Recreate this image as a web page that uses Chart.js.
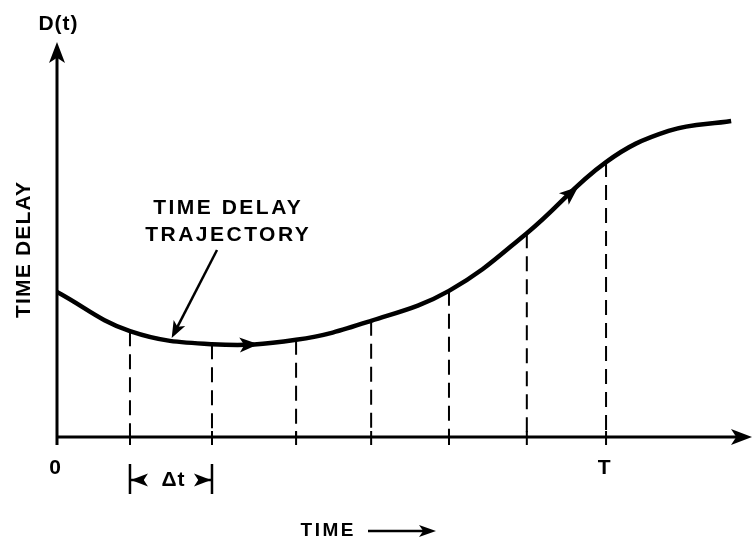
<!DOCTYPE html>
<html><head><meta charset="utf-8">
<script src="https://cdn.jsdelivr.net/npm/chart.js@4"></script>
<style>html,body{margin:0;padding:0;background:#fff}</style>
</head><body>
<canvas id="c" width="756" height="543"></canvas>
<script>
// ---- data (x: 0..100 time units, y: 0..100 delay units)
const curveX = [0, 10.5, 22.3, 34.4, 45.2, 56.4, 67.6, 79, 88, 97];
const curveY = [36.7, 26.8, 23.5, 24.6, 29.4, 37.0, 51.6, 69.6, 77.5, 80.0];
const sampleX = [10.5, 22.3, 34.4, 45.2, 56.4, 67.6, 79];
const sampleY = [26.8, 23.5, 24.6, 29.4, 37.0, 51.6, 69.6];
const xTickValues = [0, 79];
const xTickText = ['0', 'T'];
const yAxisTitle = 'D(t)';
const yAxisLabel = 'TIME DELAY';
const xAxisLabel = 'TIME';
const curveLabel = ['TIME DELAY', 'TRAJECTORY'];
const deltaLabel = '\u0394t';

const FONT = '"Liberation Sans", Arial, Helvetica, sans-serif';

const datasets = [{
  data: curveX.map((x, i) => ({x, y: curveY[i]})),
  borderColor: '#000', borderWidth: 4.5, pointRadius: 0,
  tension: 0.4, fill: false
}];
sampleX.forEach((x, i) => {
  datasets.push({
    data: [{x, y: sampleY[i]}, {x, y: 0}],
    borderColor: '#000', borderWidth: 2, borderDash: [15, 8], pointRadius: 0, fill: false
  });
});

function arrowHead(ctx, tx, ty, ang, len, hw) {
  ctx.save();
  ctx.translate(tx, ty); ctx.rotate(ang);
  ctx.beginPath();
  ctx.moveTo(0, 0); ctx.lineTo(-len, -hw); ctx.lineTo(-len * 0.75, 0); ctx.lineTo(-len, hw);
  ctx.closePath(); ctx.fillStyle = '#000'; ctx.fill();
  ctx.restore();
}
function spacedText(ctx, txt, x, y, font, spacing) {
  ctx.font = font;
  ctx.letterSpacing = spacing + 'px';
  const w = ctx.measureText(txt).width - spacing;
  ctx.textAlign = 'left';
  ctx.fillText(txt, x - w / 2, y);
  ctx.letterSpacing = '0px';
}

const deco = {
  id: 'deco',
  afterDatasetsDraw(chart) {
    const ctx = chart.ctx, xs = chart.scales.x, ys = chart.scales.y;
    const x0 = xs.getPixelForValue(0), y0 = ys.getPixelForValue(0);
    const xEnd = xs.getPixelForValue(100), yTop = ys.getPixelForValue(100);
    ctx.save();
    ctx.strokeStyle = '#000'; ctx.fillStyle = '#000'; ctx.lineCap = 'butt';
    // axes
    ctx.lineWidth = 3;
    ctx.beginPath(); ctx.moveTo(x0, y0 + 8); ctx.lineTo(x0, yTop + 14); ctx.stroke();
    ctx.beginPath(); ctx.moveTo(x0 - 1, y0); ctx.lineTo(xEnd - 14, y0); ctx.stroke();
    arrowHead(ctx, x0, yTop, -Math.PI / 2, 21, 8);
    arrowHead(ctx, xEnd, y0, 0, 21, 8);
    // ticks at sample lines
    ctx.lineWidth = 2;
    sampleX.forEach(v => {
      const px = xs.getPixelForValue(v);
      ctx.beginPath(); ctx.moveTo(px, y0 - 6); ctx.lineTo(px, y0 + 8); ctx.stroke();
    });
    // direction arrows on curve (following the drawn curve)
    const meta = chart.getDatasetMeta(0);
    function curvePointAt(px) {
      // sample the rendered curve via its elements' interpolation
      const line = meta.dataset;
      const p = line.interpolate({x: px}, 'x');
      return p;
    }
    [29, 75].forEach(v => {
      const tx = xs.getPixelForValue(v);
      const t = curvePointAt(tx), b = curvePointAt(tx - 12);
      if (t && b) arrowHead(ctx, t.x, t.y, Math.atan2(t.y - b.y, t.x - b.x), 19, 7.5);
    });
    // leader arrow
    const lx = xs.getPixelForValue(16.5);
    const lp = curvePointAt(lx);
    const ly = lp ? lp.y - 3 : ys.getPixelForValue(25.5);
    const sx = 217, sy = 250;
    const ang = Math.atan2(ly - sy, lx - sx);
    ctx.lineWidth = 2.5;
    ctx.beginPath(); ctx.moveTo(sx, sy); ctx.lineTo(lx - Math.cos(ang) * 12, ly - Math.sin(ang) * 12); ctx.stroke();
    arrowHead(ctx, lx, ly, ang, 17, 6.5);
    // texts
    ctx.textBaseline = 'middle';
    spacedText(ctx, yAxisTitle, x0 + 1, 24, 'bold 21px ' + FONT, 1);
    spacedText(ctx, curveLabel[0], 227, 208, 'bold 21px ' + FONT, 2.5);
    spacedText(ctx, curveLabel[1], 227, 235, 'bold 21px ' + FONT, 2.5);
    xTickValues.forEach((v, i) => {
      spacedText(ctx, xTickText[i], xs.getPixelForValue(v) - 2, y0 + 31, 'bold 21px ' + FONT, 0);
    });
    // y label rotated
    ctx.save();
    ctx.translate(24, 250); ctx.rotate(-Math.PI / 2);
    spacedText(ctx, yAxisLabel, 0, 0, 'bold 21px ' + FONT, 1.2);
    ctx.restore();
    // delta t marker
    const dA = xs.getPixelForValue(sampleX[0]), dB = xs.getPixelForValue(sampleX[1]);
    const dy = y0 + 43;
    ctx.lineWidth = 2.5;
    ctx.beginPath(); ctx.moveTo(dA, dy - 16); ctx.lineTo(dA, dy + 14); ctx.stroke();
    ctx.beginPath(); ctx.moveTo(dB, dy - 16); ctx.lineTo(dB, dy + 14); ctx.stroke();
    ctx.beginPath(); ctx.moveTo(dA, dy); ctx.lineTo(dA + 14, dy); ctx.stroke();
    ctx.beginPath(); ctx.moveTo(dB, dy); ctx.lineTo(dB - 14, dy); ctx.stroke();
    arrowHead(ctx, dA + 1, dy, Math.PI, 17, 6.5);
    arrowHead(ctx, dB - 1, dy, 0, 17, 6.5);
    spacedText(ctx, deltaLabel, (dA + dB) / 2 + 2, dy, 'bold 21px ' + FONT, 1);
    // x axis label with arrow
    spacedText(ctx, xAxisLabel, 327, 531, 'bold 19px ' + FONT, 2.5);
    ctx.lineWidth = 2.5;
    ctx.beginPath(); ctx.moveTo(368, 531); ctx.lineTo(425, 531); ctx.stroke();
    arrowHead(ctx, 436, 531, 0, 17, 6);
    ctx.restore();
  }
};

new Chart(document.getElementById('c'), {
  type: 'line',
  data: {datasets},
  options: {
    responsive: false, animation: false,
    layout: {padding: {left: 57, right: 4, top: 42, bottom: 106}},
    plugins: {legend: {display: false}, tooltip: {enabled: false}},
    scales: {
      x: {type: 'linear', min: 0, max: 100, display: false},
      y: {type: 'linear', min: 0, max: 100, display: false}
    }
  },
  plugins: [deco]
});
</script>
</body></html>
